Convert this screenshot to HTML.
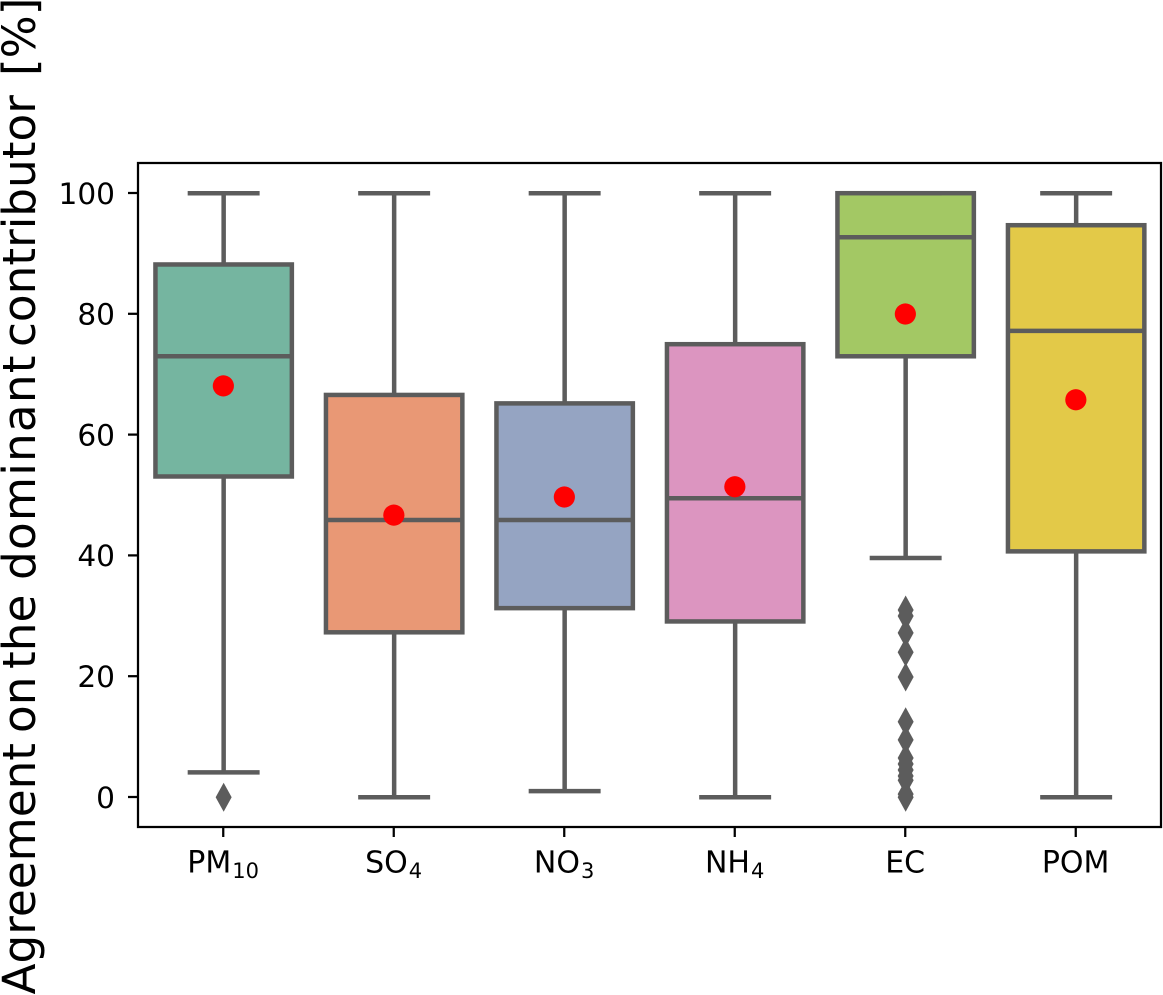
<!DOCTYPE html>
<html lang="en">
<head>
<meta charset="utf-8">
<title>Agreement on the dominant contributor</title>
<style>
html,body{margin:0;padding:0;background:#fff;width:1163px;height:995px;overflow:hidden}
svg{display:block}
text{font-family:"DejaVu Sans","Liberation Sans",sans-serif;fill:#000}
</style>
</head>
<body>
<svg id="chart" xmlns="http://www.w3.org/2000/svg" width="1163" height="995" viewBox="0 0 1163 995">
  <rect x="0" y="0" width="1163" height="995" fill="#fff"/>
  <g id="marks"></g>
  <g id="axes"></g>
  <text transform="translate(35,995) rotate(-90)" font-size="45.3"><tspan x="0.5">Agreement</tspan> <tspan x="262">on</tspan> <tspan x="326">the</tspan> <tspan x="415" letter-spacing="1.2">dominant</tspan> <tspan x="648">contributor</tspan> <tspan x="919">[%]</tspan></text>
</svg>
<script>
const categories = ["PM", "SO", "NO", "NH", "EC", "POM"];
const subscripts = ["10", "4", "3", "4", "", ""];
const whiskerLow = [4.1, 0, 1, 0, 39.6, 0];
const quartile1 = [53.1, 27.3, 31.3, 29.1, 73, 40.7];
const medians = [73, 45.9, 45.9, 49.5, 92.7, 77.2];
const quartile3 = [88.2, 66.6, 65.2, 75, 100, 94.7];
const whiskerHigh = [100, 100, 100, 100, 100, 100];
const means = [68.1, 46.7, 49.7, 51.4, 80, 65.8];
const outliers = [
  [0],
  [],
  [],
  [],
  [31, 30, 27.2, 24, 19.9, 12.5, 9.5, 6.5, 5.5, 4.5, 3.5, 2.8, 0.5, 0],
  []
];
const yTicks = [0, 20, 40, 60, 80, 100];
const boxColors = ["#75b5a0", "#e99875", "#95a4c2", "#dc95c0", "#a3c864", "#e3c948"];

const NS = "http://www.w3.org/2000/svg";
const plot = {left: 138, right: 1161, top: 163, bottom: 827};
const gray = "#5c5c5c";
const lineW = 4.5;
const x = function (i) { return plot.left + 0.4 + (i + 0.5) * (plot.right - plot.left) / categories.length; };
const y = function (v) { return 797.2 - v * 6.04; };
const band = (plot.right - plot.left) / categories.length;
const marks = document.getElementById("marks");
const axes = document.getElementById("axes");

function make(tag, attrs, parent) {
  const el = document.createElementNS(NS, tag);
  for (const k in attrs) el.setAttribute(k, attrs[k]);
  parent.appendChild(el);
  return el;
}

categories.forEach(function (cat, i) {
  const cx = x(i);
  const boxW = band * 0.8;
  const capHalf = band * 0.211;
  const key = (cat + subscripts[i]).toLowerCase();

  const group = make("g", {}, marks);
  
  

  const box = make("rect", {x: cx - boxW / 2, y: y(quartile3[i]), width: boxW, height: y(quartile1[i]) - y(quartile3[i]), fill: boxColors[i], stroke: gray, "stroke-width": lineW}, group);
  
  

  const whiskerLowLine = make("line", {x1: cx, x2: cx, y1: y(quartile1[i]), y2: y(whiskerLow[i]), stroke: gray, "stroke-width": lineW}, group);
  
  

  const whiskerHighLine = make("line", {x1: cx, x2: cx, y1: y(quartile3[i]), y2: y(whiskerHigh[i]), stroke: gray, "stroke-width": lineW}, group);
  
  

  const capLow = make("line", {x1: cx - capHalf, x2: cx + capHalf, y1: y(whiskerLow[i]), y2: y(whiskerLow[i]), stroke: gray, "stroke-width": lineW}, group);
  
  

  const capHigh = make("line", {x1: cx - capHalf, x2: cx + capHalf, y1: y(whiskerHigh[i]), y2: y(whiskerHigh[i]), stroke: gray, "stroke-width": lineW}, group);
  
  

  const median = make("line", {x1: cx - boxW / 2, x2: cx + boxW / 2, y1: y(medians[i]), y2: y(medians[i]), stroke: gray, "stroke-width": lineW}, group);
  
  

  outliers[i].forEach(function (v) {
    const py = y(v);
    const diamond = make("polygon", {points: [cx, py - 14.5, cx + 8, py, cx, py + 14.5, cx - 8, py].join(" "), fill: gray}, group);
    
    
  });

  const meanDot = make("circle", {cx: cx - 0.3, cy: y(means[i]), r: 10.6, fill: "#ff0000"}, group);
  
  

  const tick = make("line", {x1: cx - 0.4, x2: cx - 0.4, y1: plot.bottom, y2: plot.bottom + 10, stroke: "#000", "stroke-width": 2.25}, axes);
  
  

  const label = make("text", {x: cx - 0.5, y: 872.5, "text-anchor": "middle", "font-size": 30}, axes);
  
  
  label.appendChild(document.createTextNode(cat));
  if (subscripts[i]) {
    const sub = make("tspan", {"font-size": 21, dy: 5.5, dx: 1}, label);
    sub.textContent = subscripts[i];
  }
});

yTicks.forEach(function (v) {
  const tick = make("line", {x1: plot.left - 10, x2: plot.left, y1: y(v) - 0.2, y2: y(v) - 0.2, stroke: "#000", "stroke-width": 2.25}, axes);
  
  

  const label = make("text", {x: 115, y: y(v) + 10.6, "text-anchor": "end", "font-size": 29.6}, axes);
  
  
  label.textContent = String(v);
});

const frame = make("rect", {x: plot.left, y: plot.top, width: plot.right - plot.left, height: plot.bottom - plot.top, fill: "none", stroke: "#000", "stroke-width": 2.25}, axes);


</script>
</body>
</html>
